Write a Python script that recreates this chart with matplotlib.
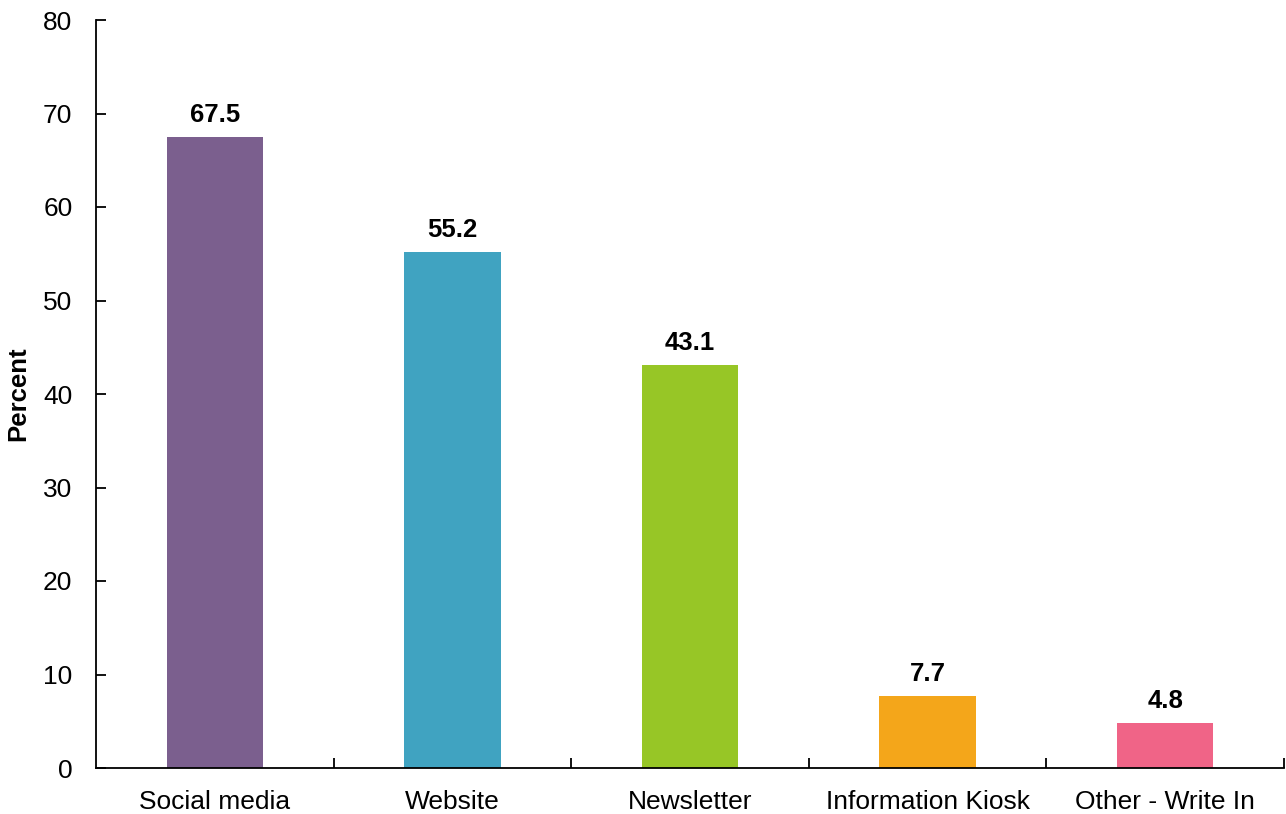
import matplotlib
matplotlib.use("Agg")
import matplotlib.pyplot as plt

categories = ["Social media", "Website", "Newsletter", "Information Kiosk", "Other - Write In"]
values = [67.5, 55.2, 43.1, 7.7, 4.8]
colors = ["#7B5F8E", "#40A3C1", "#97C626", "#F4A61A", "#F06487"]
yticks = [0, 10, 20, 30, 40, 50, 60, 70, 80]

plt.rcParams['font.family'] = ['Liberation Sans', 'DejaVu Sans']

W, H = 1286, 814
fig = plt.figure(figsize=(W / 100, H / 100), dpi=100)
ax = fig.add_axes([96 / W, 1 - 768 / H, (1284 - 96) / W, (768 - 20) / H])

x = list(range(len(categories)))
ax.bar(x, values, width=0.405, color=colors, zorder=2)
for xi, v in zip(x, values):
    ax.text(xi, v + 1.6, f"{v:.1f}", ha="center", va="baseline",
            fontsize=18.5, fontweight="bold")

ax.set_xlim(-0.5, len(categories) - 0.5)
ax.set_ylim(0, 80)
ax.set_yticks(yticks)
ax.set_yticklabels([str(t) for t in yticks], fontsize=19)
ax.set_xticks(x)
ax.set_xticklabels(categories, fontsize=19)
ax.tick_params(axis='x', length=0, pad=16)
ax.set_xticks([i + 0.5 for i in range(len(categories))], minor=True)
ax.tick_params(axis='x', which='minor', direction='in', length=7, width=1.3)
ax.tick_params(axis='y', direction='in', length=7, width=1.3, pad=17)

for s in ['top', 'right']:
    ax.spines[s].set_visible(False)
for s in ['left', 'bottom']:
    ax.spines[s].set_linewidth(1.3)

fig.text(18 / W, 1 - 394 / H, "Percent", rotation=90, ha="center", va="center",
         fontsize=18.5, fontweight="bold")

fig.savefig("out.png", dpi=100)
